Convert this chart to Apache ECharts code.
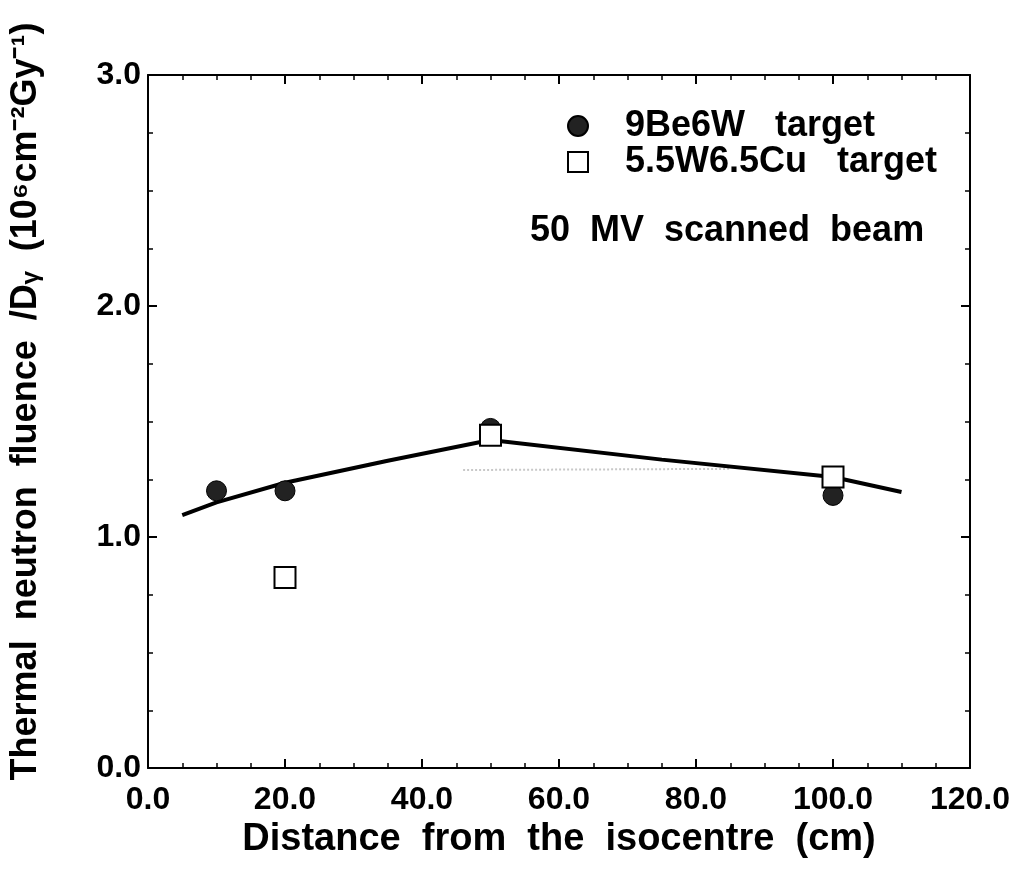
<!DOCTYPE html>
<html>
<head>
<meta charset="utf-8">
<script src="https://cdn.jsdelivr.net/npm/echarts@6/dist/echarts.min.js"></script>
<style>
html,body{margin:0;padding:0;background:#fff;}
#chart{width:1034px;height:875px;}
</style>
</head>
<body>
<div id="chart"></div>
<script>
// Data
var beW = [[10, 1.20], [20, 1.20], [50, 1.47], [100, 1.18]];          // 9Be6W target
var wCu = [[20, 0.825], [50, 1.44], [100, 1.26]];                    // 5.5W6.5Cu target
var fitLine = [[5, 1.095], [10, 1.15], [20, 1.235], [35, 1.33], [50, 1.42], [75, 1.335], [100, 1.26], [110, 1.195]];
var faintLine = [[46, 1.29], [85, 1.295]];
var xTicks = [0, 20, 40, 60, 80, 100, 120];
var yTicks = [0, 1, 2, 3];
var seriesNames = ['9Be6W   target', '5.5W6.5Cu   target'];
var annotation = '50  MV  scanned  beam';
var xTitle = 'Distance  from  the  isocentre  (cm)';
var yTitle = 'Thermal  neutron  fluence  /D\u1D67  (10\u2076cm\u207B\u00B2Gy\u207B\u00B9)';

var FONT = '"Liberation Sans", Arial, sans-serif';
var chart = echarts.init(document.getElementById('chart'), null, {renderer: 'canvas'});

function axisCommon(show) {
  return {
    axisLine: {show: true, onZero: false, lineStyle: {color: '#000', width: 2}},
    axisTick: {show: true, inside: true, length: 9, lineStyle: {color: '#000', width: 2}},
    minorTick: {show: true, splitNumber: 4, length: 5, lineStyle: {color: '#000', width: 1.5}},
    splitLine: {show: false},
    axisLabel: {show: show}
  };
}

var option = {
  backgroundColor: '#fff',
  animation: false,
  grid: {left: 148, right: 64, top: 75, bottom: 107},
  legend: {
    data: seriesNames,
    orient: 'vertical',
    left: 562, top: 103,
    itemWidth: 20, itemHeight: 20,
    itemGap: 0,
    textStyle: {fontFamily: FONT, fontWeight: 'bold', fontSize: 36, lineHeight: 36, color: '#000', padding: [0, 0, 0, 32]}
  },
  graphic: [{
    type: 'text', left: 530, top: 213,
    style: {text: annotation, font: 'bold 36px ' + FONT, fill: '#000'}
  }],
  xAxis: [
    Object.assign(axisCommon(true), {
      type: 'value', min: xTicks[0], max: xTicks[xTicks.length - 1], interval: 20,
      name: xTitle, nameLocation: 'middle', nameGap: 42,
      nameTextStyle: {fontFamily: FONT, fontWeight: 'bold', fontSize: 38, color: '#000'},
      axisLabel: {show: true, margin: 16, color: '#000', fontFamily: FONT, fontWeight: 'bold', fontSize: 32,
        formatter: function (v) { return v.toFixed(1); }}
    }),
    Object.assign(axisCommon(false), {
      type: 'value', position: 'top', min: xTicks[0], max: xTicks[xTicks.length - 1], interval: 20
    })
  ],
  yAxis: [
    Object.assign(axisCommon(true), {
      type: 'value', min: yTicks[0], max: yTicks[yTicks.length - 1], interval: 1,
      name: yTitle, nameLocation: 'middle', nameGap: 104,
      nameTextStyle: {fontFamily: FONT, fontWeight: 'bold', fontSize: 36, color: '#000', padding: [0, 0, 0, 40]},
      axisLabel: {show: true, margin: 7, color: '#000', fontFamily: FONT, fontWeight: 'bold', fontSize: 32,
        formatter: function (v) { return v.toFixed(1); }}
    }),
    Object.assign(axisCommon(false), {
      type: 'value', position: 'right', min: yTicks[0], max: yTicks[yTicks.length - 1], interval: 1
    })
  ],
  series: [
    {
      name: 'faint', type: 'line', data: faintLine, showSymbol: false, silent: true, z: 1,
      lineStyle: {color: '#c8c8c8', width: 2, type: 'dotted'}
    },
    {
      name: 'fit', type: 'line', data: fitLine, showSymbol: false, smooth: false, z: 2,
      lineStyle: {color: '#000', width: 4}
    },
    {
      name: seriesNames[0], type: 'scatter', data: beW, symbol: 'circle', symbolSize: 20, z: 3,
      itemStyle: {color: '#222', borderColor: '#000', borderWidth: 1, opacity: 1}
    },
    {
      name: seriesNames[1], type: 'scatter', data: wCu, symbol: 'rect', symbolSize: 21, z: 4,
      itemStyle: {color: '#fff', borderColor: '#000', borderWidth: 2, opacity: 1}
    }
  ]
};
chart.setOption(option);
</script>
</body>
</html>
